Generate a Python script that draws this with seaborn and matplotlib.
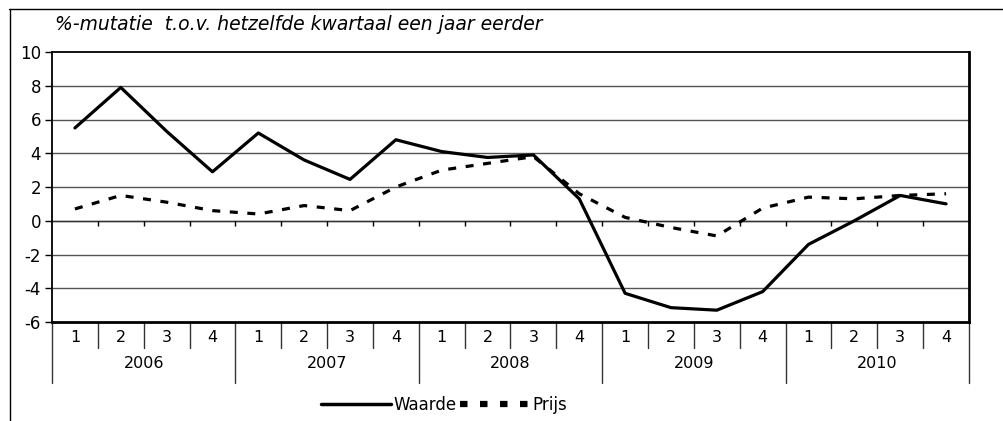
import matplotlib
matplotlib.use("Agg")
import matplotlib.pyplot as plt
from matplotlib.lines import Line2D
import seaborn as sns
import pandas as pd
import numpy as np

years = ["2006", "2007", "2008", "2009", "2010"]
quarters = ["1", "2", "3", "4"]
waarde = [5.5, 7.9, 5.3, 2.9, 5.2, 3.6, 2.45, 4.8, 4.1, 3.75, 3.9, 1.3,
          -4.3, -5.15, -5.3, -4.2, -1.4, 0.0, 1.5, 1.0]
prijs = [0.7, 1.5, 1.1, 0.6, 0.4, 0.9, 0.6, 2.0, 3.0, 3.4, 3.8, 1.6,
         0.2, -0.4, -0.9, 0.75, 1.4, 1.3, 1.5, 1.6]
title = "%-mutatie  t.o.v. hetzelfde kwartaal een jaar eerder"
yticks = [-6, -4, -2, 0, 2, 4, 6, 8, 10]

sns.set_theme(style="white")
plt.rcParams["font.family"] = ["DejaVu Sans"]
plt.rcParams["text.color"] = "black"
plt.rcParams["ytick.color"] = "black"
plt.rcParams["xtick.color"] = "black"
plt.rcParams["ytick.labelcolor"] = "black"

n = len(waarde)
idx = np.arange(n)
df = pd.DataFrame({
    "x": np.concatenate([idx, idx]),
    "val": waarde + prijs,
    "serie": ["Waarde"] * n + ["Prijs"] * n,
})

fig = plt.figure(figsize=(10.04, 4.21), dpi=100)
ax = fig.add_axes([52 / 1004, 1 - 322 / 421, (969 - 52) / 1004, (322 - 52) / 421])

sns.lineplot(data=df, x="x", y="val", hue="serie", style="serie",
             palette={"Waarde": "black", "Prijs": "black"},
             dashes={"Waarde": "", "Prijs": (2.5, 3.0)},
             linewidth=2.3, ax=ax, legend=False, sort=False)

ax.set_xlim(-0.5, n - 0.5)
ax.set_ylim(-6, 10)
ax.set_yticks(yticks)
ax.set_yticklabels([str(t) for t in yticks], fontsize=12, color="black")
ax.tick_params(axis="y", which="major", direction="out", length=5, width=1,
               color="black", pad=3, left=True)
ax.set_xticks([])
ax.set_xlabel("")
ax.set_ylabel("")

for t in yticks[1:-1]:
    ax.axhline(t, color="#555555", lw=1, zorder=0)
ax.axhline(0, color="#333333", lw=1, zorder=0)

for s in ["top", "left"]:
    ax.spines[s].set_color("black")
    ax.spines[s].set_linewidth(1.3)
for s in ["right", "bottom"]:
    ax.spines[s].set_color("black")
    ax.spines[s].set_linewidth(2.0)

# tick marks on zero line at category boundaries
bounds = np.arange(0.5, n - 0.5, 1.0)
ax.vlines(bounds, -0.3, 0, color="black", lw=1)

# category separators below axes
trans = ax.get_xaxis_transform()
per_px = 1.0 / (322 - 52)
for b in np.arange(-0.5, n + 0.5, 1.0):
    is_year = (b + 0.5) % 4 == 0
    low = -(383 - 322) * per_px if is_year else -(348 - 322) * per_px
    ax.plot([b, b], [0, low], transform=trans, color="#333333", lw=1, clip_on=False)

for i in range(n):
    ax.text(i, -(338 - 322) * per_px, quarters[i % 4], transform=trans,
            ha="center", va="center", fontsize=11.5, color="black")
for j, y in enumerate(years):
    ax.text(4 * j + 1.5, -(364 - 322) * per_px, y, transform=trans,
            ha="center", va="center", fontsize=11.5, color="black")

fig.text(55 / 1004, 1 - 25 / 421, title, style="italic", fontsize=13.5,
         ha="left", va="center", color="black")

# legend
handles = [Line2D([], [], color="black", lw=2.5),
           Line2D([], [], color="black", lw=4.5, dashes=(1.2, 2.0))]
leg = fig.legend(handles, ["Waarde", "Prijs"], loc="center",
                 bbox_to_anchor=(444 / 1004, 1 - 405 / 421), ncol=2, frameon=False,
                 fontsize=12, handlelength=4.2, handletextpad=0.15, columnspacing=0.2)
for t in leg.get_texts():
    t.set_color("black")

# outer frame (top and left)
fig.add_artist(Line2D([9 / 1004, 1.0], [1 - 9 / 421, 1 - 9 / 421], color="black", lw=1))
fig.add_artist(Line2D([10 / 1004, 10 / 1004], [1 - 9 / 421, 0], color="black", lw=1))

fig.savefig("out.png", dpi=100)
